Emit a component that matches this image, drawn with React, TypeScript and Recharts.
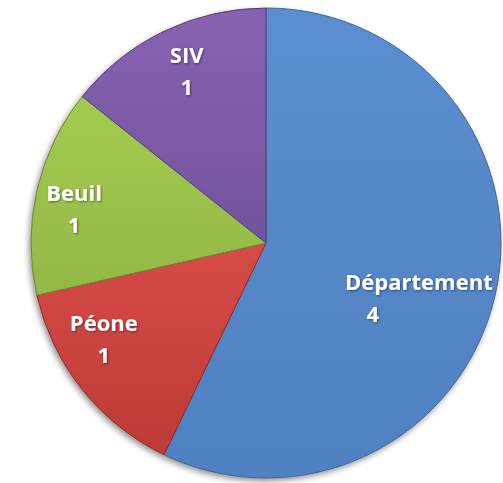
import React from "react";
import { PieChart, Pie, Cell } from "recharts";

const categories = ["Département", "Péone", "Beuil", "SIV"];
const values = [4, 1, 1, 1];

const fills = [
  { id: "gBlue", top: "#5B8ED0", bottom: "#4F80C2", stroke: "#3F6797" },
  { id: "gRed", top: "#D64B48", bottom: "#BE3A36", stroke: "#8E2A27" },
  { id: "gGreen", top: "#A3CB50", bottom: "#93B847", stroke: "#6E8C33" },
  { id: "gPurple", top: "#8762B4", bottom: "#73539C", stroke: "#553C77" },
];

// label placement tweaks: radius ratio and clockwise angle shift (deg)
const labelLayout = [
  { r: 0.69, da: 6.6, valueDx: -46 },
  { r: 0.8, da: 8.2, valueDx: 0 },
  { r: 0.83, da: -2.6, valueDx: 0 },
  { r: 0.81, da: 1.1, valueDx: 0 },
];

const data = categories.map((name, i) => ({ name, value: values[i] }));
const RAD = Math.PI / 180;

const renderLabel = (props: any) => {
  const { cx, cy, midAngle, outerRadius, index, payload } = props;
  const lay = labelLayout[index];
  const ang = (midAngle - lay.da) * RAD;
  const r = outerRadius * lay.r;
  const x = cx + r * Math.cos(-ang);
  const y = cy + r * Math.sin(-ang);
  return (
    <text
      x={x}
      y={y}
      textAnchor="middle"
      fill="#FFFFFF"
      fontFamily="'Open Sans', sans-serif"
      fontWeight={700}
      fontSize={22}
      filter="url(#txtShadow)"
    >
      <tspan x={x} y={y - 7}>{payload.name}</tspan>
      <tspan x={x + lay.valueDx} y={y + 25}>{payload.value}</tspan>
    </text>
  );
};

export default function App() {
  return (
    <div style={{ position: "absolute", left: 0, top: 0, width: 503, height: 483, background: "#FFFFFF" }}>
      <PieChart width={503} height={483} margin={{ top: 0, right: 0, bottom: 0, left: 0 }}>
        <defs>
          {fills.map((f) => (
            <linearGradient key={f.id} id={f.id} x1="0" y1="0" x2="0" y2="1">
              <stop offset="0%" stopColor={f.top} />
              <stop offset="100%" stopColor={f.bottom} />
            </linearGradient>
          ))}
          <filter id="pieShadow" x="-20%" y="-20%" width="140%" height="140%">
            <feGaussianBlur in="SourceAlpha" stdDeviation="3" />
            <feOffset dx="-2" dy="3" result="b" />
            <feComponentTransfer>
              <feFuncA type="linear" slope="0.45" />
            </feComponentTransfer>
          </filter>
          <filter id="txtShadow" x="-20%" y="-20%" width="140%" height="140%">
            <feDropShadow dx="1" dy="1" stdDeviation="0.8" floodColor="#000" floodOpacity="0.45" />
          </filter>
        </defs>
        <Pie
          data={[{ name: "shadow", value: 1 }]}
          dataKey="value"
          cx={266}
          cy={243}
          outerRadius={235}
          startAngle={90}
          endAngle={-270}
          stroke="none"
          fill="#000"
          isAnimationActive={false}
          style={{ filter: "url(#pieShadow)" }}
        />
        <Pie
          data={data}
          dataKey="value"
          nameKey="name"
          cx={266}
          cy={243}
          outerRadius={235}
          startAngle={90}
          endAngle={-270}
          isAnimationActive={false}
          label={renderLabel}
          labelLine={false}
        >
          {data.map((d, i) => (
            <Cell key={d.name} fill={`url(#${fills[i].id})`} stroke={fills[i].stroke} strokeWidth={1} />
          ))}
        </Pie>
      </PieChart>
    </div>
  );
}
